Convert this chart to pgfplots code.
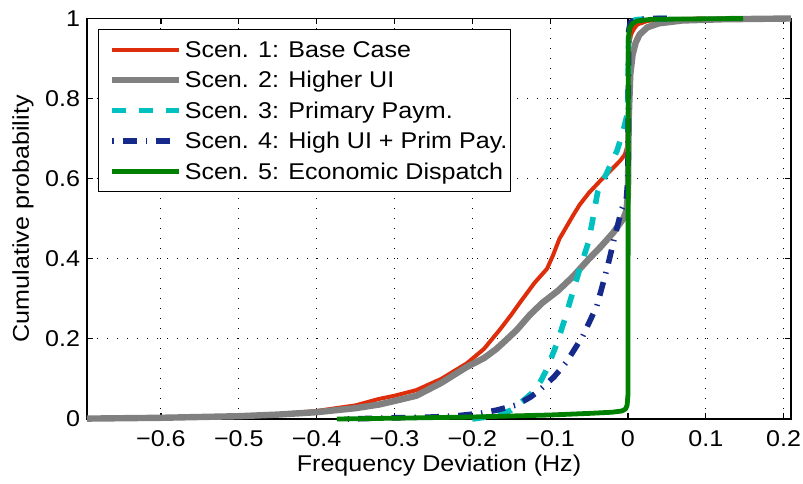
\documentclass[border=0pt]{standalone}
\usepackage{fontspec}
\setmainfont{Liberation Sans}[FakeStretch=1.1]
\usepackage{pgfplots}
\pgfplotsset{compat=1.18}
\definecolor{c1}{RGB}{222,45,10}
\definecolor{c2}{RGB}{128,128,128}
\definecolor{c3}{RGB}{0,192,192}
\definecolor{c4}{RGB}{22,42,140}
\definecolor{c5}{RGB}{0,128,0}
\newcommand\ff{\fontsize{11.4bp}{13bp}\selectfont}
\begin{document}
\begin{tikzpicture}
\begin{axis}[
  scale only axis, width=352bp, height=200.25bp,
  xmin=-0.695, xmax=0.2095, ymin=0, ymax=1,
  clip=false,
  xtick={-0.6,-0.5,-0.4,-0.3,-0.2,-0.1,0,0.1,0.2},
  xticklabels={−0.6,−0.5,−0.4,−0.3,−0.2,−0.1,0,0.1,0.2},
  ytick={0,0.2,0.4,0.6,0.8,1},
  yticklabels={0,0.2,0.4,0.6,0.8,1},
  tick label style={font=\ff},
  xticklabel style={yshift=-2.5bp},
  label style={font=\ff},
  xlabel={Frequency Deviation (Hz)},
  ylabel={Cumulative probability},
  xlabel style={at={(axis description cs:0.5,-0.117)}, anchor=center},
  ylabel style={at={(axis description cs:-0.091,0.5)}, anchor=center},
  grid=major,
  major grid style={black, line width=0.5bp, dash pattern=on 0.7bp off 4.3bp},
  axis line style={line width=0.6bp},
  tick style={black, line width=0.6bp},
  major tick length=3bp, tick align=inside,
  legend cell align=left,
  legend style={at={(0.0156,0.974)}, anchor=north west, font=\ff,
    draw=black, line width=0.6bp, fill=white,
    inner xsep=1.5bp, inner ysep=2.5bp, row sep=0pt, column sep=1.3bp,
    nodes={inner sep=0pt, text height=11.5bp, text depth=3.7bp}},
  legend image code/.code={\path (-3.8bp,0bp); \draw[#1] (0bp,0bp) -- (33.3bp,0bp);},
  every axis plot/.append style={line join=round},
]
\coordinate (ll) at (rel axis cs:0,0);
\coordinate (ur) at (rel axis cs:1,1);
\addplot[c1, line width=2bp] coordinates {(-0.695,0) (-0.65,0.001) (-0.6,0.002) (-0.55,0.004) (-0.5,0.007) (-0.45,0.012) (-0.4,0.02) (-0.35,0.034) (-0.32,0.05) (-0.3,0.058) (-0.272,0.072) (-0.24,0.1) (-0.207,0.139) (-0.185,0.175) (-0.165,0.222) (-0.15,0.26) (-0.139,0.29) (-0.12,0.34) (-0.104,0.375) (-0.096,0.41) (-0.088,0.45) (-0.079,0.48) (-0.07,0.51) (-0.062,0.535) (-0.05,0.565) (-0.033,0.6) (-0.02,0.625) (-0.01,0.645) (-0.004,0.66) (-0.001,0.68) (0,0.72) (0.001,0.93) (0.004,0.96) (0.008,0.975) (0.012,0.985) (0.025,0.994) (0.05,0.998) (0.1,1)};
\addlegendentry{Scen. 1: Base Case}
\addplot[c2, line width=3.2bp] coordinates {(-0.695,0.001) (-0.6,0.003) (-0.5,0.007) (-0.45,0.011) (-0.4,0.017) (-0.35,0.027) (-0.32,0.036) (-0.3,0.045) (-0.272,0.058) (-0.24,0.09) (-0.207,0.13) (-0.185,0.152) (-0.169,0.175) (-0.155,0.2) (-0.143,0.222) (-0.126,0.26) (-0.11,0.29) (-0.09,0.32) (-0.071,0.355) (-0.05,0.4) (-0.035,0.43) (-0.019,0.465) (-0.006,0.5) (-0.002,0.52) (0,0.56) (0.001,0.75) (0.003,0.86) (0.006,0.91) (0.01,0.94) (0.015,0.96) (0.025,0.978) (0.04,0.988) (0.07,0.995) (0.12,0.998) (0.2095,1)};
\addlegendentry{Scen. 2: Higher UI}
\addplot[c3, line width=2.8bp, dash pattern=on 6.7bp off 6.7bp] coordinates {(-0.2,0) (-0.17,0.008) (-0.15,0.022) (-0.135,0.045) (-0.122,0.067) (-0.112,0.095) (-0.104,0.125) (-0.091,0.19) (-0.081,0.25) (-0.071,0.316) (-0.062,0.374) (-0.051,0.44) (-0.046,0.49) (-0.039,0.566) (-0.027,0.615) (-0.014,0.67) (-0.006,0.72) (-0.001,0.76) (0,0.8) (0.001,0.97) (0.003,0.99) (0.01,0.997) (0.03,1) (0.05,1)};
\addlegendentry{Scen. 3: Primary Paym.}
\addplot[c4, line width=2.8bp, dash pattern=on 0.7bp off 4.5bp on 7bp off 4.5bp] coordinates {(-0.36,0) (-0.3,0.003) (-0.25,0.005) (-0.22,0.008) (-0.19,0.014) (-0.169,0.022) (-0.143,0.035) (-0.125,0.055) (-0.113,0.073) (-0.095,0.105) (-0.079,0.142) (-0.058,0.207) (-0.04,0.282) (-0.027,0.374) (-0.017,0.455) (-0.008,0.524) (-0.002,0.55) (0,0.6) (0.001,0.97) (0.003,0.99) (0.01,0.997) (0.03,1) (0.05,1)};
\addlegendentry{Scen. 4: High UI + Prim Pay.}
\addplot[c5, line width=2.4bp] coordinates {(-0.374,0) (-0.3,0.002) (-0.2,0.005) (-0.1,0.01) (-0.05,0.014) (-0.02,0.017) (-0.008,0.02) (-0.003,0.025) (-0.001,0.035) (0,0.06) (0.0005,0.95) (0.002,0.975) (0.006,0.988) (0.012,0.994) (0.03,0.998) (0.148,1)};
\addlegendentry{Scen. 5: Economic Dispatch}
\end{axis}
\pgfresetboundingbox
\path ([shift={(-43.5bp,-32.5bp)}]ll) rectangle ([shift={(6bp,9.25bp)}]ur);
\end{tikzpicture}
\end{document}
